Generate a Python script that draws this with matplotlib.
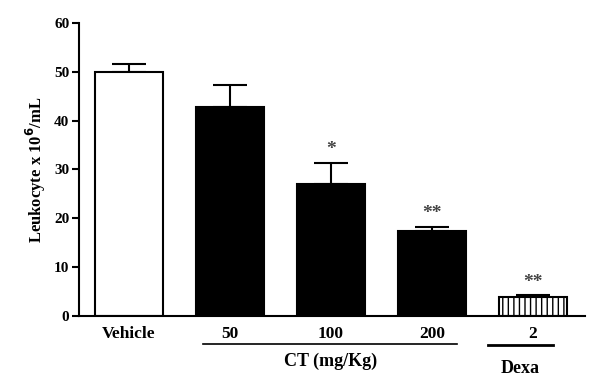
import matplotlib
matplotlib.use("Agg")
import matplotlib.pyplot as plt
import matplotlib.transforms as mtransforms
import numpy as np

# data
groups = ["Vehicle", "50", "100", "200", "2"]
means = [50.0, 42.7, 27.0, 17.4, 3.9]
errors = [1.7, 4.7, 4.4, 0.9, 0.3]
stars = ["", "", "*", "**", "**"]
colors = ["white", "black", "black", "black", "white"]
hatches = ["", "", "", "", "|||"]

plt.rcParams["font.family"] = ["Liberation Serif", "DejaVu Serif"]
plt.rcParams["font.weight"] = "bold"
plt.rcParams["hatch.linewidth"] = 1.0

x = np.arange(len(groups))

fig = plt.figure(figsize=(5.99, 3.80), dpi=100)
ax = fig.add_axes([0.1319, 0.1684, 0.9766 - 0.1319, 0.9395 - 0.1684])

ax.bar(x, means, width=0.67, color=colors, edgecolor="black",
       linewidth=1.5, hatch=hatches, zorder=2)
ax.errorbar(x, means, yerr=[np.zeros(len(errors)), errors], fmt="none",
            ecolor="black", elinewidth=1.5, capsize=12.5, capthick=1.5, zorder=1)

for xi, m, e, s in zip(x, means, errors, stars):
    if s:
        ax.text(xi, m + e + 1.0, s, ha="center", va="bottom",
                fontsize=14, color="#444444")

ax.set_xlim(-0.495, 4.515)
ax.set_ylim(0, 60)
ax.set_yticks(np.arange(0, 61, 10))
ax.set_xticks(x)
ax.set_xticklabels(groups, fontsize=12.5, fontweight="bold")
ax.tick_params(axis="x", length=0, pad=7)
ax.tick_params(axis="y", length=5, width=1.5, labelsize=11, pad=2)
for lab in ax.get_yticklabels():
    lab.set_fontweight("bold")

for side in ["top", "right"]:
    ax.spines[side].set_visible(False)
ax.spines["left"].set_linewidth(1.5)
ax.spines["bottom"].set_linewidth(1.5)

ax.set_ylabel("Leukocyte x 10$^\\mathbf{6}$/mL", fontsize=12, fontweight="bold", labelpad=4)

# group brackets under the x labels
trans = mtransforms.blended_transform_factory(ax.transData, ax.transAxes)
ax.plot([x[1] - 0.27, x[3] + 0.25], [-0.095, -0.095], color="black",
        linewidth=1.2, transform=trans, clip_on=False)
ax.text((x[1] + x[3]) / 2, -0.125, "CT (mg/Kg)", ha="center", va="top",
        fontsize=13, fontweight="bold", transform=trans)
ax.plot([x[4] - 0.45, x[4] + 0.2], [-0.098, -0.098], color="black",
        linewidth=2, transform=trans, clip_on=False)
ax.text(x[4] - 0.13, -0.15, "Dexa", ha="center", va="top",
        fontsize=13, fontweight="bold", transform=trans)

fig.savefig("out.png", dpi=100)
